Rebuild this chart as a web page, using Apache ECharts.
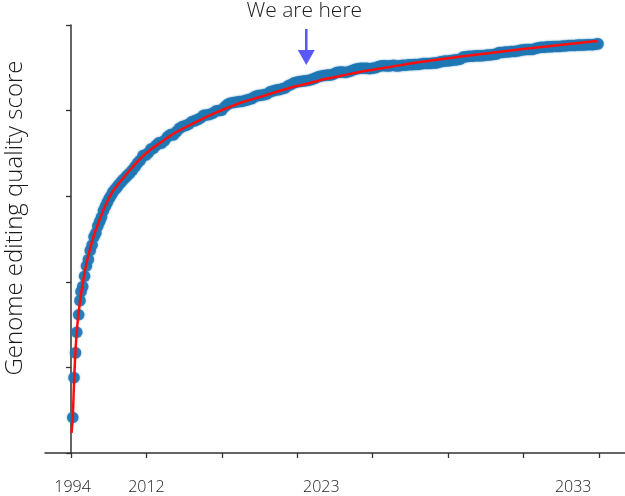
<!DOCTYPE html>
<html>
<head>
<meta charset="utf-8">
<script src="https://cdn.jsdelivr.net/npm/echarts@6/dist/echarts.min.js"></script>
<style>
html,body{margin:0;padding:0;background:#fff;}
#chart{width:625px;height:496px;}
</style>
</head>
<body>
<div id="chart"></div>
<script>
// ---- data ----
const xTickValues = [0, 10, 20, 30, 40, 50, 60, 70];
const xLabelValues = [0.2, 10, 33.2, 66.6];
const xLabelTexts = ['1994', '2012', '2023', '2033'];
const yTitle = 'Genome editing quality score';
const annotationText = 'We are here';
const annotationX = 31.2;

// observed scores [t, score]
const observed = [
  [0.23, 8.3], [0.40, 17.6], [0.60, 23.4], [0.76, 28.2], [1.02, 32.3], [1.19, 35.6], [1.33, 37.7],
  [1.55, 38.9], [1.80, 41.3], [2.05, 43.7], [2.30, 45.2], [2.55, 47.3], [2.80, 48.6], [3.05, 50.5],
  [3.30, 51.4], [3.55, 53.0], [3.80, 54.1], [4.05, 55.1], [4.30, 56.6], [4.55, 57.6], [4.80, 58.5],
  [5.05, 59.4], [5.30, 60.1], [5.55, 60.9], [5.80, 61.5], [6.05, 62.0], [6.30, 62.6], [6.60, 63.2],
  [6.90, 63.8], [7.20, 64.3], [7.50, 64.9], [7.80, 65.4], [8.15, 66.1], [8.50, 66.9], [8.85, 67.8],
  [9.20, 68.4], [9.55, 69.5], [9.90, 69.6], [10.25, 70.1], [10.60, 71.0], [10.95, 71.2], [11.30, 71.9],
  [11.65, 72.5], [12.00, 72.4], [12.40, 73.0], [12.80, 73.9], [13.20, 74.4], [13.60, 74.3], [14.00, 75.1],
  [14.40, 75.9], [14.80, 76.3], [15.20, 76.5], [15.60, 76.8], [16.00, 77.4], [16.40, 77.6], [16.80, 77.9],
  [17.20, 78.3], [17.60, 78.9], [18.00, 79.0], [18.40, 79.1], [18.80, 79.4], [19.20, 79.9], [19.60, 80.0],
  [20.00, 80.1], [20.40, 80.9], [20.80, 81.5], [21.20, 81.8], [21.60, 81.9], [22.00, 82.0], [22.40, 82.1],
  [22.80, 82.2], [23.20, 82.4], [23.60, 82.6], [24.00, 82.8], [24.40, 83.3], [24.80, 83.5], [25.20, 83.6],
  [25.60, 83.7], [26.00, 83.9], [26.40, 84.4], [26.80, 84.6], [27.20, 84.8], [27.60, 84.9], [28.00, 85.1],
  [28.40, 85.3], [28.80, 85.8], [29.20, 86.1], [29.60, 86.5], [30.00, 86.7], [30.40, 86.8], [30.80, 86.9],
  [31.20, 87.0], [31.60, 87.1], [32.00, 87.3], [32.40, 87.6], [32.80, 87.9], [33.20, 88.1], [33.60, 88.2],
  [34.00, 88.3], [34.40, 88.3], [34.80, 88.5], [35.20, 88.9], [35.60, 89.0], [36.00, 89.0], [36.40, 88.9],
  [36.80, 89.1], [37.20, 89.3], [37.60, 89.6], [38.00, 89.8], [38.40, 89.9], [38.80, 89.9], [39.20, 89.9],
  [39.60, 89.8], [40.00, 89.9], [40.40, 90.0], [40.80, 90.3], [41.20, 90.5], [41.60, 90.5], [42.00, 90.4],
  [42.40, 90.5], [42.80, 90.6], [43.20, 90.4], [43.60, 90.5], [44.00, 90.6], [44.40, 90.6], [44.80, 90.7],
  [45.20, 90.7], [45.60, 90.8], [46.00, 90.8], [46.40, 90.9], [46.80, 91.0], [47.20, 91.0], [47.60, 91.0],
  [48.00, 91.1], [48.40, 91.1], [48.80, 91.3], [49.20, 91.5], [49.60, 91.6], [50.00, 91.6], [50.40, 91.7],
  [50.80, 91.8], [51.20, 91.9], [51.60, 92.0], [52.00, 92.5], [52.40, 92.6], [52.80, 92.7], [53.20, 92.7],
  [53.60, 92.8], [54.00, 92.8], [54.40, 92.8], [54.80, 92.9], [55.20, 93.0], [55.60, 93.0], [56.00, 93.1],
  [56.40, 93.2], [56.80, 93.6], [57.20, 93.6], [57.60, 93.7], [58.00, 93.7], [58.40, 93.8], [58.80, 93.8],
  [59.20, 93.9], [59.60, 94.1], [60.00, 94.2], [60.40, 94.3], [60.80, 94.3], [61.20, 94.3], [61.60, 94.5],
  [62.00, 94.7], [62.40, 94.8], [62.80, 94.8], [63.20, 94.9], [63.60, 94.9], [64.00, 95.0], [64.40, 95.0],
  [64.80, 95.0], [65.20, 95.1], [65.60, 95.1], [66.00, 95.2], [66.40, 95.2], [66.80, 95.2], [67.20, 95.3],
  [67.60, 95.3], [68.00, 95.3], [68.40, 95.4], [68.80, 95.4], [69.20, 95.4], [69.60, 95.5], [69.90, 95.6]
];

// fitted trend [t, score]
const trend = [
  [0.07, 4.67], [0.23, 8.41], [0.40, 16.36], [0.53, 21.73], [0.73, 27.57], [0.93, 31.54], [1.19, 35.28],
  [1.46, 38.55], [1.86, 42.76], [2.39, 46.73], [2.92, 50.23], [3.58, 53.50], [4.24, 56.54], [4.91, 59.11],
  [5.57, 61.21], [6.50, 63.32], [7.82, 66.12], [9.15, 68.69], [10.48, 70.79], [11.80, 72.43], [13.53, 74.53],
  [15.25, 76.17], [17.11, 77.80], [18.83, 79.21], [20.69, 80.61], [22.81, 82.01], [25.07, 83.18], [27.19, 84.35],
  [29.44, 85.51], [31.70, 86.45], [33.69, 87.38], [35.68, 88.08], [38.99, 89.25], [42.31, 90.19], [46.29, 91.36],
  [51.19, 92.52], [55.57, 93.46], [59.95, 94.39], [64.85, 95.33], [69.76, 96.26]
];

const textColor = '#1a1a1a';
const axisColor = '#333';
const font = '"Open Sans", "DejaVu Sans", sans-serif';

const chart = echarts.init(document.getElementById('chart'), null, {renderer: 'canvas'});
chart.setOption({
  animation: false,
  backgroundColor: '#fff',
  grid: {left: 45, right: 0, top: 25, bottom: 43},
  xAxis: {
    type: 'value',
    min: -3.45,
    max: 73.47,
    splitLine: {show: false},
    axisLine: {onZero: false, lineStyle: {color: axisColor, width: 1.5}},
    axisTick: {show: true, length: 5, lineStyle: {color: axisColor, width: 1.3}, customValues: xTickValues},
    axisLabel: {
      show: true, customValues: xLabelValues, margin: 26,
      fontSize: 16, color: textColor, fontFamily: font, fontWeight: 300,
      formatter: function (v) {
        for (let i = 0; i < xLabelValues.length; i++) {
          if (Math.abs(xLabelValues[i] - v) < 1e-6) return xLabelTexts[i];
        }
        return '';
      }
    }
  },
  yAxis: {
    type: 'value',
    min: 0, max: 100, interval: 20,
    splitLine: {show: false},
    axisLine: {show: true, lineStyle: {color: axisColor, width: 1.5}},
    axisTick: {show: true, length: 5, lineStyle: {color: axisColor, width: 1.3}},
    axisLabel: {show: false}
  },
  series: [
    {
      type: 'scatter',
      data: observed,
      symbolSize: 11.5,
      itemStyle: {color: '#1f77b4', opacity: 0.92, shadowBlur: 2, shadowColor: 'rgba(31,119,180,0.6)'},
      z: 2
    },
    {
      type: 'line',
      data: trend,
      smooth: 0.3,
      showSymbol: false,
      lineStyle: {color: '#ff0d0d', width: 2.5},
      z: 3
    }
  ]
});

const ax = chart.convertToPixel({gridIndex: 0}, [annotationX, 100])[0];
chart.setOption({
  graphic: [
    {
      type: 'text', rotation: Math.PI / 2, x: 15, y: 218,
      style: {text: yTitle, fontSize: 24, fontFamily: font, fontWeight: 300, fill: textColor, align: 'center', verticalAlign: 'middle'}
    },
    {
      type: 'text', x: ax - 2, y: 11,
      style: {text: annotationText, fontSize: 21, fontFamily: font, fontWeight: 300, fill: textColor, align: 'center', verticalAlign: 'middle'}
    },
    {
      type: 'rect', shape: {x: ax - 1.3, y: 29, width: 2.6, height: 23},
      style: {fill: '#5858fc'}
    },
    {
      type: 'polygon', shape: {points: [[ax - 8.5, 50], [ax + 8.5, 50], [ax, 65]]},
      style: {fill: '#5858fc'}
    }
  ]
});
</script>
</body>
</html>
